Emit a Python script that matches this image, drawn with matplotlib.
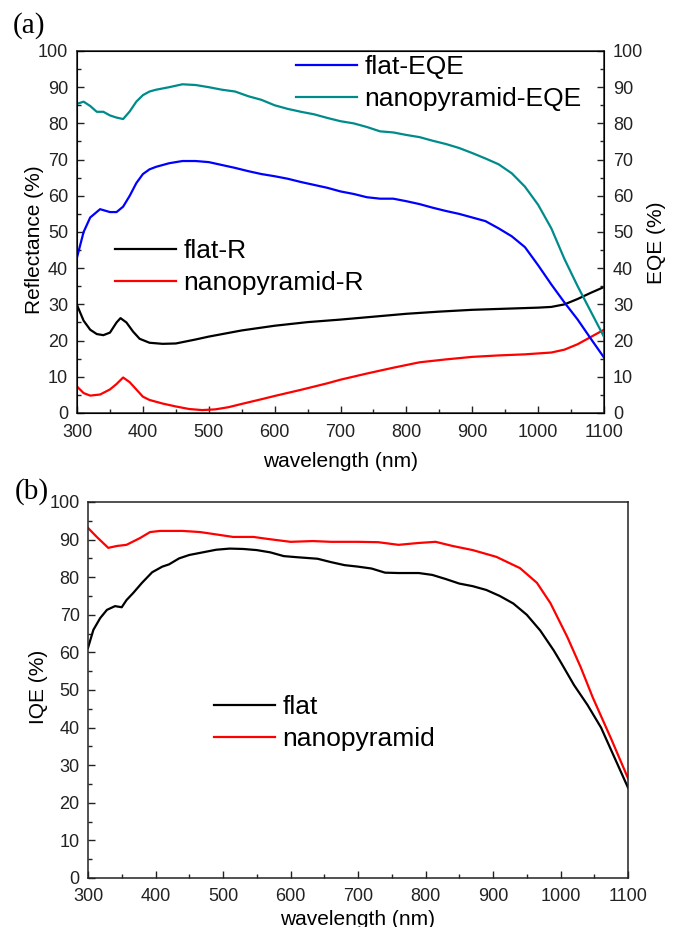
import matplotlib
matplotlib.use("Agg")
import matplotlib.pyplot as plt
from matplotlib.ticker import MultipleLocator

# ---- data ----
# (a) EQE curves
wl_flat_eqe = [300, 310, 320, 335, 350, 360, 370, 380, 390, 400, 410, 420, 440, 460, 480, 500,
               520, 540, 560, 580, 600, 620, 640, 660, 680, 700, 720, 740, 760, 780, 800, 820,
               840, 860, 880, 900, 920, 940, 960, 980, 1000, 1020, 1040, 1060, 1080, 1100]
flat_eqe = [43, 50, 54, 56.3, 55.5, 55.5, 57, 60, 63.5, 66, 67.3, 68, 69, 69.6, 69.6, 69.3,
            68.5, 67.7, 66.8, 66, 65.4, 64.7, 63.8, 63, 62.2, 61.2, 60.5, 59.6, 59.2, 59.2, 58.5, 57.7,
            56.7, 55.8, 55, 54, 53, 51, 48.8, 45.8, 40.8, 35.5, 30.5, 25.8, 20.5, 15.3]

wl_nano_eqe = [300, 310, 320, 330, 340, 350, 360, 370, 380, 390, 400, 410, 420, 440, 460, 480,
               500, 520, 540, 560, 580, 600, 620, 640, 660, 680, 700, 720, 740, 760, 780, 800,
               820, 840, 860, 880, 900, 920, 940, 960, 980, 1000, 1020, 1040, 1060, 1080, 1100]
nano_eqe = [85.4, 86, 84.8, 83.2, 83.2, 82.2, 81.6, 81.2, 83.3, 86, 87.8, 88.8, 89.3, 90, 90.8, 90.6,
            90, 89.3, 88.8, 87.5, 86.5, 85, 84, 83.2, 82.5, 81.5, 80.6, 80, 79, 77.8, 77.5, 76.8,
            76.2, 75.2, 74.3, 73.2, 71.8, 70.3, 68.7, 66.2, 62.5, 57.5, 51, 42.5, 35, 28, 21]

# (a) reflectance curves
wl_flat_r = [300, 310, 320, 330, 340, 350, 360, 366, 375, 385, 395, 410, 430, 450, 480, 500,
             550, 600, 650, 700, 750, 800, 850, 900, 950, 1000, 1020, 1040, 1060, 1080, 1100]
flat_r = [29.8, 25.5, 23, 21.8, 21.5, 22.2, 25, 26.2, 25, 22.5, 20.5, 19.4, 19.1, 19.2, 20.3, 21.1,
          22.8, 24.1, 25.1, 25.8, 26.6, 27.4, 28, 28.5, 28.8, 29.1, 29.3, 30, 31.5, 33.2, 34.8]

wl_nano_r = [300, 310, 320, 335, 350, 360, 370, 380, 390, 400, 410, 430, 450, 470, 490, 510,
             530, 550, 580, 600, 640, 680, 700, 740, 780, 820, 860, 900, 940, 980, 1020, 1040,
             1060, 1080, 1100]
nano_r = [7.3, 5.5, 4.8, 5.1, 6.5, 8, 9.8, 8.5, 6.5, 4.5, 3.6, 2.6, 1.8, 1.1, 0.8, 1.0,
          1.6, 2.5, 3.8, 4.7, 6.4, 8.2, 9.2, 10.9, 12.5, 14, 14.8, 15.5, 15.9, 16.2, 16.7, 17.5,
          19, 21, 23]

# (b) IQE curves
wl_flat_iqe = [300, 308, 318, 328, 340, 350, 357, 367, 380, 395, 410, 420, 435, 450, 470, 490,
               510, 530, 550, 570, 590, 610, 640, 660, 680, 700, 720, 740, 760, 790, 810, 830,
               850, 870, 890, 910, 930, 950, 970, 990, 1000, 1020, 1040, 1060, 1080, 1100]
flat_iqe = [61.2, 66, 69.1, 71.3, 72.3, 72, 73.9, 75.8, 78.5, 81.3, 82.8, 83.4, 85, 85.9, 86.6, 87.3,
            87.6, 87.5, 87.2, 86.6, 85.6, 85.3, 84.9, 84, 83.2, 82.8, 82.3, 81.2, 81.1, 81.1, 80.6, 79.5,
            78.3, 77.6, 76.6, 75, 73, 70, 65.8, 60.5, 57.5, 51.3, 46, 40, 32, 24]

wl_nano_iqe = [300, 313, 330, 343, 357, 377, 392, 407, 440, 466, 485, 515, 545, 565, 600, 633,
               660, 700, 730, 760, 790, 815, 840, 870, 905, 940, 965, 985, 1010, 1030, 1048, 1075, 1100]
nano_iqe = [93.1, 90.7, 87.8, 88.3, 88.6, 90.4, 92, 92.3, 92.3, 92, 91.5, 90.7, 90.7, 90.2, 89.4, 89.6,
            89.4, 89.4, 89.3, 88.6, 89.1, 89.4, 88.3, 87.2, 85.4, 82.4, 78.5, 73.1, 64.1, 56, 47.9, 37, 26.5]

teal = '#008b8b'
plt.rcParams['font.family'] = ['Liberation Sans', 'DejaVu Sans']

fig = plt.figure(figsize=(6.78, 9.27), dpi=100)

leg_kw = dict(loc='upper left', bbox_transform=fig.transFigure, frameon=False, fontsize=19,
              handlelength=2.3, handletextpad=0.3, labelspacing=0.32, borderpad=0, borderaxespad=0)


def style_axis(ax, xpad, ypad):
    ax.set_xlim(300, 1100)
    ax.set_ylim(0, 100)
    ax.xaxis.set_major_locator(MultipleLocator(100))
    ax.xaxis.set_minor_locator(MultipleLocator(50))
    ax.yaxis.set_major_locator(MultipleLocator(10))
    ax.yaxis.set_minor_locator(MultipleLocator(5))
    ax.tick_params(which='both', direction='in', top=False, right=False,
                   labelsize=13, width=1, colors='#222222')
    ax.tick_params(which='major', length=5)
    ax.tick_params(which='minor', length=3)
    ax.tick_params(axis='x', which='major', pad=xpad)
    ax.tick_params(axis='y', which='major', pad=ypad)
    for s in ax.spines.values():
        s.set_linewidth(1.1)
        s.set_color('#222222')


# ---------------- (a) ----------------
ax1 = fig.add_axes([0.1136, 0.5545, 0.7773, 0.3905])
style_axis(ax1, 8, 6.5)
ax1.plot(wl_flat_r, flat_r, color='black', lw=1.6, label='flat-R')
ax1.plot(wl_nano_r, nano_r, color='red', lw=1.6, label='nanopyramid-R')
ax1.set_xlabel('wavelength (nm)', fontsize=15, labelpad=8)
ax1.set_ylabel('Reflectance (%)', fontsize=15)
ax1.yaxis.set_label_coords(-0.063, 0.48)

ax2 = ax1.twinx()
ax2.set_ylim(0, 100)
ax2.yaxis.set_major_locator(MultipleLocator(10))
ax2.yaxis.set_minor_locator(MultipleLocator(5))
ax2.tick_params(which='both', direction='in', right=True, labelsize=13, width=1, colors='#222222')
ax2.tick_params(which='major', length=5, pad=6.5)
ax2.tick_params(which='minor', length=3)
ax2.plot(wl_flat_eqe, flat_eqe, color='blue', lw=1.6, label='flat-EQE')
ax2.plot(wl_nano_eqe, nano_eqe, color=teal, lw=1.6, label='nanopyramid-EQE')
ax2.set_ylabel('EQE (%)', fontsize=15)
ax2.yaxis.set_label_coords(1.082, 0.47)

ax2.legend(bbox_to_anchor=(296 / 678, 1 - 55 / 927), **leg_kw)
ax1.legend(bbox_to_anchor=(115 / 678, 1 - 239 / 927), **leg_kw)

fig.text(13 / 678, 1 - 26 / 927, '(a)', family='Liberation Serif', fontsize=21, va='center', ha='left')

# ---------------- (b) ----------------
ax3 = fig.add_axes([0.1298, 0.0529, 0.7965, 0.4056])
style_axis(ax3, 7.5, 6)
ax3.plot(wl_flat_iqe, flat_iqe, color='black', lw=1.6, label='flat')
ax3.plot(wl_nano_iqe, nano_iqe, color='red', lw=1.6, label='nanopyramid')
ax3.set_xlabel('wavelength (nm)', fontsize=15, labelpad=3)
ax3.set_ylabel('IQE (%)', fontsize=15)
ax3.yaxis.set_label_coords(-0.074, 0.508)
ax3.legend(bbox_to_anchor=(214 / 678, 1 - 695 / 927), **leg_kw)

fig.text(15 / 678, 1 - 492 / 927, '(b)', family='Liberation Serif', fontsize=21, va='center', ha='left')

plt.savefig('out.png', dpi=100)
